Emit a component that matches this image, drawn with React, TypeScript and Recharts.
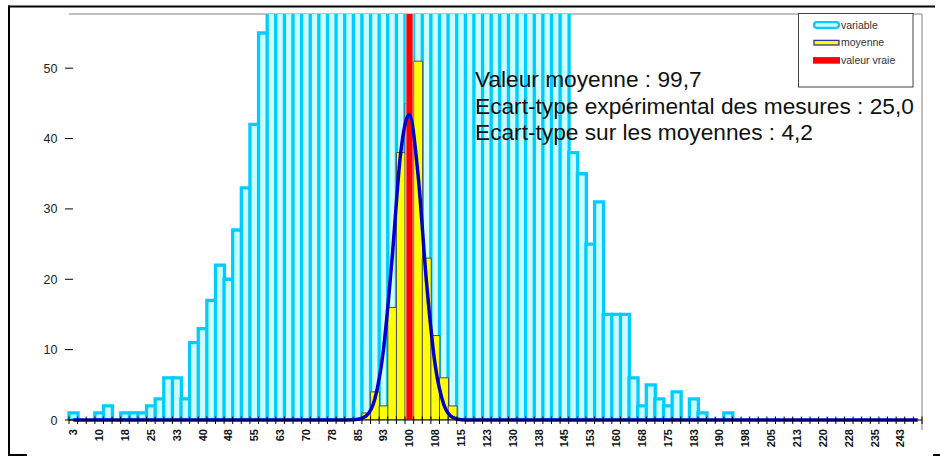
import React from 'react';
import { ComposedChart, Bar, Line, XAxis, YAxis } from 'recharts';

// Category labels (bin centres, step 2.5, rounded as displayed)
const categories: string[] = [
  '3','5','8','10','13','15','18','20','23','25','28','30','33','35','38','40','43','45','48','50',
  '53','55','58','60','63','65','68','70','73','75','78','80','83','85','88','90','93','95','98','100',
  '103','105','108','110','113','115','118','120','123','125','128','130','133','135','138','140','143','145','148','150',
  '153','155','158','160','163','165','168','170','173','175','178','180','183','185','188','190','193','195','198','200',
  '203','205','208','210','213','215','218','220','223','225','228','230','233','235','238','240','243','245','248',
];

// Histogram of the individual measurements ("variable")
const variable: number[] = [
  1, 0, 0, 1, 2, 0, 1, 1, 1, 2, 3, 6, 6, 3, 11, 13, 17, 22, 20, 27, 33, 42, 55,
  66, 74, 90, 98, 116, 125, 143, 152, 170, 178, 195, 202, 215, 218, 228, 226, 232, 229, 224, 216, 210, 198, 190, 176, 165, 150, 138, 122, 110, 96, 86, 75, 68, 63, 60,
  38, 35, 25, 31, 15, 15, 15, 6, 2, 5, 3, 2, 4, 0, 3, 1, 0, 0, 1,
  0, 0, 0, 0, 0, 0, 0, 0, 0, 0, 0, 0, 0, 0, 0, 0, 0, 0, 0, 0, 0, 0,
];

// Histogram of the means ("moyenne")
const moyenne: (number | null)[] = [
  null, null, null, null, null, null, null, null, null, null, null, null, null, null, null, null, null, null, null, null,
  null, null, null, null, null, null, null, null, null, null, null, null, null, null, 1, 4, 2, 16, 38, 45,
  51, 23, 12, 6, 2, null, null, null, null, null, null, null, null, null, null, null, null, null, null, null,
  null, null, null, null, null, null, null, null, null, null, null, null, null, null, null, null, null, null, null, null,
  null, null, null, null, null, null, null, null, null, null, null, null, null, null, null, null, null, null, null,
];

// True value bar ("valeur vraie")
const valeurVraie: (number | null)[] = categories.map((c) => (c === '100' ? 60 : null));

// Fitted normal curve on the means
const courbe: number[] = [
  0, 0, 0, 0, 0, 0, 0, 0, 0, 0, 0, 0, 0, 0, 0, 0, 0, 0, 0, 0,
  0, 0, 0, 0, 0, 0, 0, 0, 0, 0, 0, 0, 0, 0.1, 0.6, 3, 10, 23, 38, 43.4,
  35, 19.5, 7.8, 2.2, 0.4, 0.05, 0, 0, 0, 0, 0, 0, 0, 0, 0, 0, 0, 0, 0, 0,
  0, 0, 0, 0, 0, 0, 0, 0, 0, 0, 0, 0, 0, 0, 0, 0, 0, 0, 0, 0,
  0, 0, 0, 0, 0, 0, 0, 0, 0, 0, 0, 0, 0, 0, 0, 0, 0, 0, 0,
];

const yTicks: number[] = [0, 10, 20, 30, 40, 50];

const annotationLines: string[] = [
  'Valeur moyenne : 99,7',
  'Ecart-type expérimental des mesures : 25,0',
  'Ecart-type sur les moyennes : 4,2',
];

const legendItems = [
  { label: 'variable', kind: 'variable' },
  { label: 'moyenne', kind: 'moyenne' },
  { label: 'valeur vraie', kind: 'vraie' },
];

const data = categories.map((cat, i) => ({
  cat,
  variable: variable[i],
  moyenne: moyenne[i],
  vraie: valeurVraie[i],
  courbe: courbe[i],
}));

const W = 940;
const H = 456;
const PLOT_L = 69;
const PLOT_T = 14;
const PLOT_R = 922;
const PLOT_B = 420;
const Y_MAX = 57.7;
const FONT = 'Liberation Sans, Arial, Helvetica, sans-serif';

const XTick = (props: any) => {
  const { x, payload } = props;
  const i = categories.indexOf(String(payload.value));
  const half = (PLOT_R - PLOT_L) / categories.length / 2;
  return (
    <g>
      <line x1={x - half} x2={x - half} y1={PLOT_B - 3.5} y2={PLOT_B + 4} stroke="#000" strokeWidth={1} />
      {i === categories.length - 1 && (
        <line x1={x + half} x2={x + half} y1={PLOT_B - 3.5} y2={PLOT_B + 4} stroke="#000" strokeWidth={1} />
      )}
      {i % 3 === 0 && (
        <text
          x={x}
          y={429}
          dy="0.36em"
          transform={`rotate(-90, ${x}, 429)`}
          textAnchor="end"
          fontFamily={FONT}
          fontWeight="bold"
          fontSize={11}
          fill="#111"
        >
          {payload.value}
        </text>
      )}
    </g>
  );
};

const YTick = (props: any) => {
  const { y, payload } = props;
  return (
    <g>
      <line x1={65} x2={73} y1={y} y2={y} stroke="#000" strokeWidth={1} />
      <text x={57.5} y={y} dy="0.36em" textAnchor="end" fontFamily={FONT} fontSize={12.5} fill="#222">
        {payload.value}
      </text>
    </g>
  );
};

export default function App() {
  return (
    <div style={{ position: 'absolute', left: 0, top: 0, width: W, height: H, background: '#fff', overflow: 'hidden' }}>
      <svg width={W} height={H} style={{ position: 'absolute', left: 0, top: 0 }}>
        {/* outer frame pieces */}
        <line x1={8} x2={935} y1={6.5} y2={6.5} stroke="#000" strokeWidth={2} />
        <line x1={9} x2={9} y1={5.5} y2={456} stroke="#000" strokeWidth={2} />
        <line x1={8} x2={27} y1={455} y2={455} stroke="#000" strokeWidth={2} />
        <line x1={933} x2={940} y1={455} y2={455} stroke="#000" strokeWidth={2} />
        {/* plot area border */}
        <line x1={PLOT_L} x2={PLOT_R} y1={PLOT_T} y2={PLOT_T} stroke="#aaa" strokeWidth={1.5} />
        <line x1={PLOT_R} x2={PLOT_R} y1={PLOT_T} y2={430} stroke="#aaa" strokeWidth={1.5} />
      </svg>
      <div style={{ position: 'absolute', left: 0, top: 0 }}>
        <ComposedChart
          width={W}
          height={H}
          data={data}
          margin={{ top: PLOT_T, right: W - PLOT_R, bottom: 0, left: 0 }}
          barCategoryGap={0}
          barGap={0}
        >
          <YAxis
            yAxisId="v"
            width={PLOT_L}
            domain={[0, Y_MAX]}
            allowDataOverflow
            ticks={yTicks}
            tick={<YTick />}
            tickLine={false}
            axisLine={{ stroke: '#000', strokeWidth: 1 }}
          />
          <YAxis yAxisId="c" domain={[0, Y_MAX]} hide />
          <XAxis xAxisId="y2" dataKey="cat" hide />
          <XAxis xAxisId="r2" dataKey="cat" hide />
          <Bar
            xAxisId="main"
            yAxisId="v"
            dataKey="variable"
            fill="#CCFFFF"
            stroke="#00CCFF"
            strokeWidth={3.3}
            isAnimationActive={false}
          />
          <Bar
            xAxisId="y2"
            yAxisId="v"
            dataKey="moyenne"
            fill="#FFFF00"
            stroke="#4a4a66"
            strokeWidth={1}
            isAnimationActive={false}
          />
          <Bar
            xAxisId="r2"
            yAxisId="v"
            dataKey="vraie"
            fill="#FF0000"
            stroke="#f4c8c8"
            strokeWidth={0.8}
            barSize={7}
            isAnimationActive={false}
          />
          <Line
            xAxisId="main"
            yAxisId="c"
            type="monotone"
            dataKey="courbe"
            stroke="#0000CC"
            strokeWidth={3.5}
            dot={false}
            activeDot={false}
            isAnimationActive={false}
          />
          <XAxis
            xAxisId="main"
            dataKey="cat"
            height={H - PLOT_B}
            interval={0}
            tick={<XTick />}
            tickLine={false}
            axisLine={{ stroke: '#000', strokeWidth: 1 }}
          />
        </ComposedChart>
      </div>
      <svg width={W} height={H} style={{ position: 'absolute', left: 0, top: 0, pointerEvents: 'none' }}>
        {annotationLines.map((t, i) => (
          <text key={t} x={475} y={87 + i * 26.5} fontFamily={FONT} fontSize={22.7} fill="#111">
            {t}
          </text>
        ))}
        <rect x={798.5} y={13.5} width={114.5} height={73.5} fill="#fff" stroke="#444" strokeWidth={1} />
        {legendItems.map((it, i) => {
          const cy = 25 + i * 17.7;
          let sw;
          if (it.kind === 'variable') {
            sw = <rect x={814} y={cy - 2.8} width={25} height={5.6} rx={2.8} fill="#CCFFFF" stroke="#00CCFF" strokeWidth={2.2} />;
          } else if (it.kind === 'moyenne') {
            sw = <rect x={814} y={cy - 2.3} width={25} height={4.6} fill="#FFFF00" stroke="#333399" strokeWidth={1.3} />;
          } else {
            sw = <rect x={813} y={cy - 3.3} width={27} height={6.6} fill="#FF0000" />;
          }
          return (
            <g key={it.label}>
              {sw}
              <text x={841} y={cy} dy="0.36em" fontFamily={FONT} fontSize={10.5} fill="#333">
                {it.label}
              </text>
            </g>
          );
        })}
      </svg>
    </div>
  );
}
